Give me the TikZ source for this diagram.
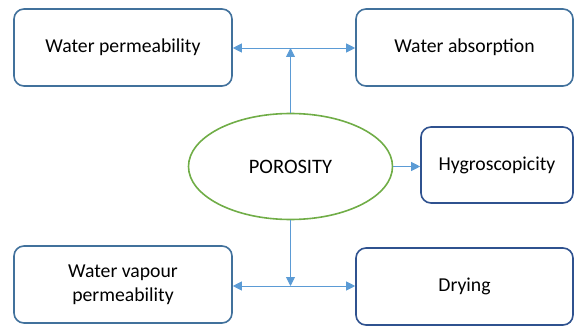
\documentclass[tikz,border=0pt]{standalone}
\usepackage{fontspec}
\setmainfont{Carlito}
\usetikzlibrary{arrows.meta,shapes.geometric}
\definecolor{lineblue}{HTML}{5B9BD5}
\definecolor{boxblue}{HTML}{41719C}
\definecolor{darkblue}{HTML}{2F528F}
\definecolor{porgreen}{HTML}{70AD47}
\tikzset{
  box/.style={draw=boxblue, line width=1.6pt, rounded corners=10pt, fill=white,
    minimum height=77pt, align=center, inner sep=2pt, font=\fontsize{19.7}{24}\selectfont},
  darkbox/.style={box, draw=darkblue},
  con/.style={draw=lineblue, line width=0.9pt},
  tip/.style={-{Triangle[length=9pt,width=9pt]}},
  dtip/.style={{Triangle[length=9pt,width=9pt]}-{Triangle[length=9pt,width=9pt]}},
  por/.style={ellipse, draw=porgreen, line width=1.6pt, minimum width=204pt, minimum height=106pt,
    inner sep=0pt, font=\fontsize{20.5}{24}\selectfont}
}
\begin{document}
\begin{tikzpicture}[x=1pt,y=1pt]
\useasboundingbox (0,0) rectangle (576,-326);
\node[box, minimum width=218pt] (tl) at (123,-47.5) {Water permeability};
\node[box, minimum width=217pt] (tr) at (464.5,-47.5) {Water absorption};
\node[darkbox, minimum width=152pt, minimum height=76pt] (hy) at (497,-165) {Hygroscopicity};
\node[box, minimum width=218pt] (bl) at (123,-284.5) {Water vapour\\permeability};
\node[darkbox, minimum width=217pt] (dr) at (464.5,-286.5) {Drying};
\node[por] (p) at (290.5,-166.5) {POROSITY};
\coordinate (jt) at (p.north |- 0,-48);
\coordinate (jb) at (p.south |- 0,-286);
\draw[con, dtip] (tl.east |- jt) -- (tr.west |- jt);
\draw[con, tip] (p.north) -- (jt);
\draw[con, dtip] (bl.east |- jb) -- (dr.west |- jb);
\draw[con, tip] (p.south) -- (jb);
\draw[con, tip] (p.east) -- (hy.west |- p.east);
\end{tikzpicture}
\end{document}
